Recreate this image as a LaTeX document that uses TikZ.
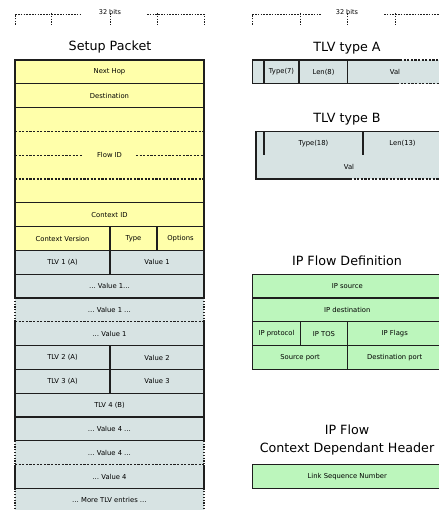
\documentclass[tikz,border=0pt]{standalone}
\usepackage{fontspec}
\setmainfont{DejaVu Sans}
\usetikzlibrary{positioning}
\definecolor{setupyellow}{RGB}{255,255,170}
\definecolor{tlvgrey}{RGB}{215,227,227}
\definecolor{flowgreen}{RGB}{188,246,188}
\definecolor{edgegrey}{RGB}{30,30,30}
\tikzset{
  cell/.style={minimum height=23.8pt, inner sep=0pt, outer sep=0pt, line width=1.1pt, font=\fontsize{6.8}{8}\selectfont},
  yfield/.style={cell, draw=edgegrey, fill=setupyellow},
  tfield/.style={cell, draw=edgegrey, fill=tlvgrey},
  tbare/.style={cell, fill=tlvgrey},
  gfield/.style={cell, draw=edgegrey, fill=flowgreen},
  lwide/.style={minimum width=189pt},
  rwide/.style={minimum width=189.5pt},
  solidedge/.style={edgegrey, line width=1.1pt},
  cutedge/.style={edgegrey, line width=1.1pt, dash pattern=on 2.2pt off 1.4pt},
  sideedge/.style={edgegrey, line width=1.1pt, dash pattern=on 1.2pt off 1.6pt},
  rulerline/.style={edgegrey, line width=0.8pt, dash pattern=on 1.6pt off 1.2pt},
  heading/.style={font=\fontsize{12.7}{18.5}\selectfont, anchor=base, inner sep=0pt},
  bitslabel/.style={font=\fontsize{6.5}{8}\selectfont, inner sep=0pt}
}
\begin{document}
\begin{tikzpicture}[x=1pt, y=-1pt]
\useasboundingbox (0,0) rectangle (438,510);

% rulers
\node[bitslabel] (lbits) at (110,12) {32 bits};
\draw[rulerline] (15,25) -- (15,14) -- (82,14);
\draw[rulerline] (147,14) -- (204,14) -- (204,25);
\foreach \x in {51,110,157} \draw[rulerline] (\x,13) -- (\x,25);
\node[bitslabel] (rbits) at (347,12) {32 bits};
\draw[rulerline] (252,25) -- (252,14) -- (322,14);
\draw[rulerline] (384,14) -- (442,14) -- (442,25);
\foreach \x in {300,347,395} \draw[rulerline] (\x,13) -- (\x,25);

% setup packet
\node[heading] (setuptitle) at (110,51) {Setup Packet};
\node[yfield, lwide, anchor=north west] (nexthop) at (15,60) {Next Hop};
\node[yfield, lwide, below=0pt of nexthop] (dest) {Destination};
\node[yfield, lwide, minimum height=95.2pt, below=0pt of dest] (flowid) {};
\node[cell, inner xsep=14pt] (flowtxt) at (flowid.center) {Flow ID};
\node[yfield, lwide, below=0pt of flowid] (ctxid) {Context ID};
\node[yfield, minimum width=95pt, below=0pt of ctxid.south west, anchor=north west] (ctxver) {Context Version};
\node[yfield, minimum width=47pt, right=0pt of ctxver] (ctype) {Type};
\node[yfield, minimum width=47pt, right=0pt of ctype] (copt) {Options};
\node[tfield, minimum width=95pt, below=0pt of ctxver] (tlv1) {TLV 1 (A)};
\node[tfield, minimum width=94pt, right=0pt of tlv1] (val1) {Value 1};
\node[tfield, lwide, below=0pt of tlv1.south west, anchor=north west] (val1a) {… Value 1…};
\node[tbare, lwide, below=0pt of val1a] (val1b) {… Value 1 …};
\node[tbare, lwide, below=0pt of val1b] (val1c) {… Value 1};
\node[tfield, minimum width=95pt, below=0pt of val1c.south west, anchor=north west] (tlv2) {TLV 2 (A)};
\node[tfield, minimum width=94pt, right=0pt of tlv2] (val2) {Value 2};
\node[tfield, minimum width=95pt, below=0pt of tlv2] (tlv3) {TLV 3 (A)};
\node[tfield, minimum width=94pt, right=0pt of tlv3] (val3) {Value 3};
\node[tfield, lwide, below=0pt of tlv3.south west, anchor=north west] (tlv4) {TLV 4 (B)};
\node[tfield, lwide, below=0pt of tlv4] (val4a) {… Value 4 …};
\node[tbare, lwide, below=0pt of val4a] (val4b) {… Value 4 …};
\node[tbare, lwide, below=0pt of val4b] (val4c) {… Value 4};
\node[tbare, lwide, below=0pt of val4c] (more) {… More TLV entries …};

\draw[cutedge] ([yshift=-23.8pt]flowid.north west) -- ([yshift=-23.8pt]flowid.north east);
\draw[cutedge] ([yshift=23.8pt]flowid.south west) -- ([yshift=23.8pt]flowid.south east);
\draw[cutedge] (flowid.west) -- (flowtxt.west);
\draw[cutedge] (flowtxt.east) -- (flowid.east);
\foreach \n in {val1b,val4b} {
  \draw[solidedge] (\n.north west) -- (\n.north east);
  \draw[sideedge] (\n.north west) -- (\n.south west);
  \draw[sideedge] (\n.north east) -- (\n.south east);
  \draw[cutedge] (\n.south west) -- (\n.south east);
}
\foreach \n in {val1c,val4c}
  \draw[solidedge] (\n.north west) -- (\n.south west) -- (\n.south east) -- (\n.north east);
\draw[solidedge] (more.north west) -- (more.north east);
\draw[sideedge] (more.north west) -- ([yshift=-4pt]more.south west);
\draw[sideedge] (more.north east) -- ([yshift=-4pt]more.south east);

% TLV type A
\node[heading] (tlvatitle) at (347,51.5) {TLV type A};
\node[tfield, minimum width=11.5pt, anchor=north west] (ahead) at (252.5,60) {};
\node[tfield, minimum width=35pt, right=0pt of ahead] (atype) {Type(7)};
\node[tfield, minimum width=49pt, right=0pt of atype] (alen) {Len(8)};
\node[tbare, minimum width=94pt, right=0pt of alen] (aval) {Val};
\draw[solidedge] (aval.north west) -- ++(52,0);
\draw[cutedge] ([xshift=52pt]aval.north west) -- (aval.north east);
\draw[solidedge] (aval.south west) -- ++(49,0);
\draw[cutedge] ([xshift=49pt]aval.south west) -- (aval.south east);

% TLV type B
\node[heading] (tlvbtitle) at (347,123) {TLV type B};
\node[tfield, minimum width=8pt, anchor=north west] (bhead) at (256,131.4) {};
\node[tfield, minimum width=99pt, right=0pt of bhead] (btype) {Type(18)};
\node[tfield, minimum width=79pt, right=0pt of btype] (blen) {Len(13)};
\node[tbare, minimum width=186pt, below=0pt of bhead.south west, anchor=north west] (bval) {Val};
\draw[solidedge] (bval.north west) -- (bval.south west) -- ++(94,0);
\draw[cutedge] ([xshift=94pt]bval.south west) -- (bval.south east);

% IP flow definition
\node[heading] (ipdeftitle) at (347,265) {IP Flow Definition};
\node[gfield, rwide, anchor=north west] (ipsrc) at (252.5,274.2) {IP source};
\node[gfield, rwide, below=0pt of ipsrc] (ipdst) {IP destination};
\node[gfield, minimum width=48pt, below=0pt of ipdst.south west, anchor=north west] (ipproto) {IP protocol};
\node[gfield, minimum width=47pt, right=0pt of ipproto] (iptos) {IP TOS};
\node[gfield, minimum width=94.5pt, right=0pt of iptos] (ipflags) {IP Flags};
\node[gfield, minimum width=95pt, below=0pt of ipproto.south west, anchor=north west] (srcport) {Source port};
\node[gfield, minimum width=94.5pt, right=0pt of srcport] (dstport) {Destination port};

% context dependant header
\node[heading, align=center] (ctxtitle) at (347,452.5) {IP Flow\\Context Dependant Header};
\node[gfield, rwide, anchor=north west] (linkseq) at (252.5,464.6) {Link Sequence Number};
\end{tikzpicture}
\end{document}
